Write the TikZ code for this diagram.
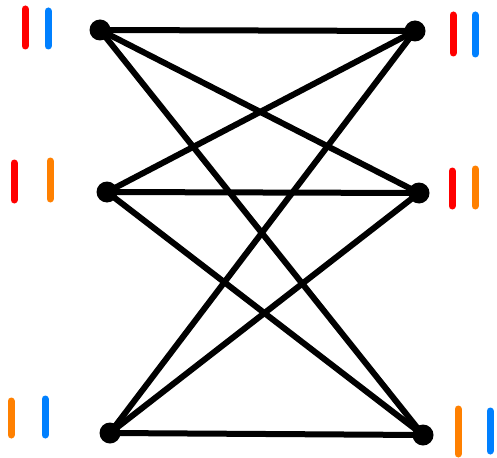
\documentclass[tikz,border=0pt]{standalone}
\usepackage{amsmath,amssymb}
\usepackage{tikz}

\definecolor{pred}{RGB}{255,0,0}
\definecolor{pblue}{RGB}{0,128,255}
\definecolor{porange}{RGB}{255,128,0}

\tikzset{
    vtx/.style={circle,fill=black,inner sep=0pt,minimum size=21pt},
    edge/.style={line width=6pt,line cap=round},
    colbar/.style={line width=7pt,line cap=round}
}

\begin{document}
\begin{tikzpicture}[x=1pt,y=-1pt]
    \useasboundingbox (0,0) rectangle (497,457);
    \node[vtx] (l1) at (100,30) {};
    \node[vtx] (l2) at (107,192) {};
    \node[vtx] (l3) at (110,433) {};
    \node[vtx] (r1) at (415,31) {};
    \node[vtx] (r2) at (419,193) {};
    \node[vtx] (r3) at (423,435) {};
    \foreach \a in {l1,l2,l3}
        \foreach \b in {r1,r2,r3}
            \draw[edge] (\a.center) -- (\b.center);
    % colour marks, left
    \draw[colbar,pred] (25,9) -- (25,46);
    \draw[colbar,pblue] (48,11) -- (48,46);
    \draw[colbar,pred] (14,163) -- (14,200);
    \draw[colbar,porange] (50,161) -- (50,199);
    \draw[colbar,porange] (11,401) -- (11,435);
    \draw[colbar,pblue] (45,399) -- (45,435);
    % colour marks, right
    \draw[colbar,pred] (453,15) -- (453,53);
    \draw[colbar,pblue] (475,15) -- (475,54);
    \draw[colbar,pred] (452,171) -- (452,206);
    \draw[colbar,porange] (475,169) -- (475,206);
    \draw[colbar,porange] (458,409) -- (458,454);
    \draw[colbar,pblue] (490,411) -- (490,451);
\end{tikzpicture}
\end{document}
